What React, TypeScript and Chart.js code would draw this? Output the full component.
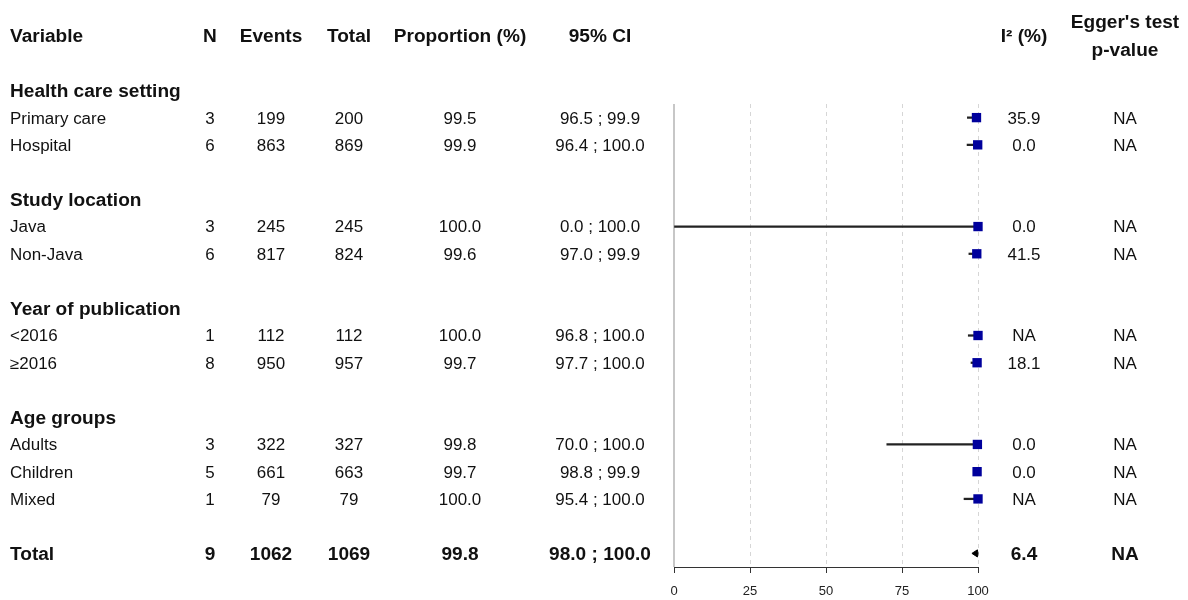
import React, { useEffect, useRef } from 'react';
import { Chart, registerables } from 'chart.js';

Chart.register(...registerables);

// ---------------- data ----------------
const groupHeadings = ['Health care setting', 'Study location', 'Year of publication', 'Age groups'];
const subgroupLabels = ['Primary care', 'Hospital', 'Java', 'Non-Java', '<2016', '≥2016', 'Adults', 'Children', 'Mixed'];
const subgroupGroup = [0, 0, 1, 1, 2, 2, 3, 3, 3];
const studyCounts = [3, 6, 3, 6, 1, 8, 3, 5, 1];
const eventCounts = [199, 863, 245, 817, 112, 950, 322, 661, 79];
const totalCounts = [200, 869, 245, 824, 112, 957, 327, 663, 79];
const proportions = [99.5, 99.9, 100.0, 99.6, 100.0, 99.7, 99.8, 99.7, 100.0];
const ciLower = [96.5, 96.4, 0.0, 97.0, 96.8, 97.7, 70.0, 98.8, 95.4];
const ciUpper = [99.9, 100.0, 100.0, 99.9, 100.0, 100.0, 100.0, 99.9, 100.0];
const i2Values: (number | null)[] = [35.9, 0.0, 0.0, 41.5, null, 18.1, 0.0, 0.0, null];
const eggerValues: (number | null)[] = [null, null, null, null, null, null, null, null, null];

const overallLabel = 'Total';
const overallStudies = 9;
const overallEvents = 1062;
const overallTotal = 1069;
const overallProportion = 99.8;
const overallLower = 98.0;
const overallUpper = 100.0;
const overallI2: number | null = 6.4;
const overallEgger: number | null = null;

const xTicks = [0, 25, 50, 75, 100];

const headerLabels = ['Variable', 'N', 'Events', 'Total', 'Proportion (%)', '95% CI', 'I² (%)'];
const eggerHeader = ["Egger's test", 'p-value'];

// ---------------- row layout (derived) ----------------
const headingRows: number[] = [];
const subgroupRows: number[] = [];
let r = 0;
groupHeadings.forEach((_, g) => {
  headingRows.push(r);
  r += 1;
  subgroupLabels.forEach((_, i) => {
    if (subgroupGroup[i] === g) {
      subgroupRows.push(r);
      r += 1;
    }
  });
  r += 1; // blank spacer row
});
const totalRow = r;
const headerRow = -2;

// ---------------- styles ----------------
const FONT = '"Liberation Sans", Arial, Helvetica, sans-serif';
const TEXT_COLOR = '#111';
const STRETCH = 1.06;
const TEXT_DY = 1.5;
const COL = { label: 10, n: 210, events: 271, total: 349, prop: 460, ci: 600, i2: 1024, egger: 1125 };
const SQUARE_COLOR = '#00009c';
const DIAMOND_HALF = 0.13;

const fmt = (v: number | null) => (v === null ? 'NA' : v.toFixed(1));

function drawText(ctx: CanvasRenderingContext2D, text: string, x: number, y: number, align: CanvasTextAlign, bold: boolean) {
  ctx.save();
  ctx.font = `${bold ? 'bold 18px' : '16px'} ${FONT}`;
  ctx.fillStyle = TEXT_COLOR;
  ctx.textAlign = align;
  ctx.textBaseline = 'middle';
  ctx.translate(x, y + TEXT_DY);
  ctx.scale(STRETCH, 1);
  ctx.fillText(text, 0, 0);
  ctx.restore();
}

const forestPlugin = {
  id: 'forestTable',
  beforeDatasetsDraw(chart: any) {
    const { ctx, chartArea, scales } = chart;
    const x0 = scales.x.getPixelForValue(0);
    ctx.save();
    ctx.strokeStyle = '#b4b4b4';
    ctx.lineWidth = 1.5;
    ctx.beginPath();
    ctx.moveTo(x0, chartArea.top);
    ctx.lineTo(x0, chartArea.bottom);
    ctx.stroke();
    ctx.restore();
  },
  afterDraw(chart: any) {
    const { ctx, scales } = chart;
    const ys = scales.y;
    const hy = ys.getPixelForValue(headerRow);

    // header
    drawText(ctx, headerLabels[0], COL.label, hy, 'left', true);
    drawText(ctx, headerLabels[1], COL.n, hy, 'center', true);
    drawText(ctx, headerLabels[2], COL.events, hy, 'center', true);
    drawText(ctx, headerLabels[3], COL.total, hy, 'center', true);
    drawText(ctx, headerLabels[4], COL.prop, hy, 'center', true);
    drawText(ctx, headerLabels[5], COL.ci, hy, 'center', true);
    drawText(ctx, headerLabels[6], COL.i2, hy, 'center', true);
    drawText(ctx, eggerHeader[0], COL.egger, hy - 14, 'center', true);
    drawText(ctx, eggerHeader[1], COL.egger, hy + 14, 'center', true);

    // group headings
    groupHeadings.forEach((h, g) => {
      drawText(ctx, h, COL.label, ys.getPixelForValue(headingRows[g]), 'left', true);
    });

    // subgroup rows
    subgroupLabels.forEach((lab, i) => {
      const y = ys.getPixelForValue(subgroupRows[i]);
      drawText(ctx, lab, COL.label, y, 'left', false);
      drawText(ctx, String(studyCounts[i]), COL.n, y, 'center', false);
      drawText(ctx, String(eventCounts[i]), COL.events, y, 'center', false);
      drawText(ctx, String(totalCounts[i]), COL.total, y, 'center', false);
      drawText(ctx, proportions[i].toFixed(1), COL.prop, y, 'center', false);
      drawText(ctx, `${ciLower[i].toFixed(1)} ; ${ciUpper[i].toFixed(1)}`, COL.ci, y, 'center', false);
      drawText(ctx, fmt(i2Values[i]), COL.i2, y, 'center', false);
      drawText(ctx, fmt(eggerValues[i]), COL.egger, y, 'center', false);
    });

    // total row
    const ty = ys.getPixelForValue(totalRow);
    drawText(ctx, overallLabel, COL.label, ty, 'left', true);
    drawText(ctx, String(overallStudies), COL.n, ty, 'center', true);
    drawText(ctx, String(overallEvents), COL.events, ty, 'center', true);
    drawText(ctx, String(overallTotal), COL.total, ty, 'center', true);
    drawText(ctx, overallProportion.toFixed(1), COL.prop, ty, 'center', true);
    drawText(ctx, `${overallLower.toFixed(1)} ; ${overallUpper.toFixed(1)}`, COL.ci, ty, 'center', true);
    drawText(ctx, fmt(overallI2), COL.i2, ty, 'center', true);
    drawText(ctx, fmt(overallEgger), COL.egger, ty, 'center', true);
  },
};

export default function App() {
  const canvasRef = useRef<HTMLCanvasElement | null>(null);

  useEffect(() => {
    document.body.style.margin = '0';
    const canvas = canvasRef.current;
    if (!canvas) return;

    const squares = proportions.map((p, i) => ({ x: p, y: subgroupRows[i] }));
    const intervals = ciLower.map((lo, i) => ({ x: [lo, ciUpper[i]], y: subgroupRows[i] }));
    const diamond = [
      { x: overallLower, y: totalRow },
      { x: overallProportion, y: totalRow - DIAMOND_HALF },
      { x: overallUpper, y: totalRow },
      { x: overallProportion, y: totalRow + DIAMOND_HALF },
      { x: overallLower, y: totalRow },
    ];

    const chart = new Chart(canvas, {
      type: 'scatter',
      data: {
        datasets: [
          {
            type: 'scatter',
            label: 'Proportion',
            data: squares,
            pointStyle: 'rect',
            pointRadius: 6.6,
            pointHoverRadius: 6.6,
            backgroundColor: SQUARE_COLOR,
            borderColor: SQUARE_COLOR,
            borderWidth: 0,
            clip: false,
            order: 0,
          } as any,
          {
            type: 'bar',
            label: '95% CI',
            indexAxis: 'y',
            data: intervals,
            backgroundColor: '#222',
            borderWidth: 0,
            barThickness: 1.6,
            clip: false,
            order: 2,
          } as any,
          {
            type: 'line',
            label: 'Overall',
            data: diamond,
            fill: 'shape',
            backgroundColor: '#000',
            borderColor: '#000',
            borderWidth: 1,
            pointRadius: 0,
            tension: 0,
            clip: false,
            order: 1,
          } as any,
        ],
      },
      options: {
        responsive: false,
        animation: false,
        events: [],
        layout: { padding: { left: 674, right: 210, top: 104, bottom: 0 } },
        plugins: { legend: { display: false }, tooltip: { enabled: false }, title: { display: false } },
        scales: {
          x: {
            type: 'linear',
            position: 'bottom',
            offset: false,
            min: xTicks[0],
            max: xTicks[xTicks.length - 1],
            afterBuildTicks: (scale: any) => {
              scale.ticks = xTicks.map((v) => ({ value: v }));
            },
            afterFit: (scale: any) => {
              scale.height = 33;
            },
            ticks: {
              color: '#222',
              font: { family: FONT, size: 13 },
              padding: 11,
              maxRotation: 0,
              autoSkip: false,
            },
            grid: {
              offset: false,
              color: (c: any) => (c.tick && c.tick.value === 0 ? 'rgba(0,0,0,0)' : '#d6d6d6'),
              lineWidth: 1,
              drawTicks: true,
              tickLength: 6,
              tickColor: '#333',
              tickWidth: 1,
              tickBorderDash: [],
            },
            border: { display: true, color: '#333', width: 1, dash: [4, 4] },
          },
          y: {
            type: 'linear',
            display: false,
            offset: false,
            grid: { offset: false },
            reverse: true,
            min: 0.5,
            max: totalRow + 0.5,
          },
        },
      } as any,
      plugins: [forestPlugin],
    });

    return () => chart.destroy();
  }, []);

  return (
    <div style={{ position: 'fixed', left: 0, top: 0, width: 1188, height: 600, background: '#fff' }}>
      <canvas ref={canvasRef} width={1188} height={600} style={{ display: 'block' }} />
    </div>
  );
}
